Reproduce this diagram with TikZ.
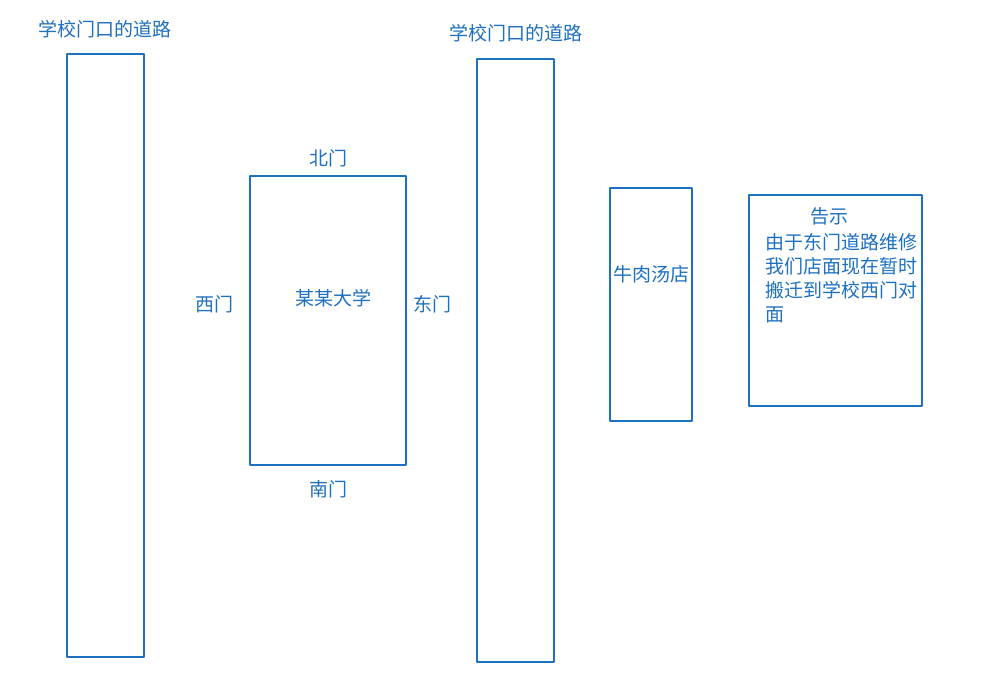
\documentclass[tikz,border=0pt]{standalone}
\usepackage{fontspec}
\newfontfamily\cjk{Noto Sans CJK SC}
\definecolor{sk}{RGB}{30,112,192}
\begin{document}
\begin{tikzpicture}[x=1pt,y=-1pt,
  box/.style={draw=sk,line width=2.6pt,line join=round,inner sep=0pt},
  lbl/.style={text=sk,font=\cjk\fontsize{19}{24}\selectfont,inner sep=0pt}]
\useasboundingbox[fill=white] (0,0) rectangle (1002,687);
% roads
\node[box,minimum width=77pt,minimum height=603pt] (road1) at (105.5,355.5) {};
\node[lbl] (road1l) at (105,29) {学校门口的道路};
\node[box,minimum width=77pt,minimum height=603pt] (road2) at (515.5,360.5) {};
\node[lbl] (road2l) at (516,33) {学校门口的道路};
% university
\node[box,minimum width=156pt,minimum height=289pt] (uni) at (328,320.5) {};
\node[lbl] (unil) at (333,298) {某某大学};
\node[lbl] (north) at (328,158) {北门};
\node[lbl] (south) at (328,489) {南门};
\node[lbl] (west) at (214,304) {西门};
\node[lbl] (east) at (432,304) {东门};
% shop
\node[box,minimum width=82pt,minimum height=233pt] (shop) at (651,304.5) {};
\node[lbl] (shopl) at (651,274) {牛肉汤店};
% notice
\node[box,minimum width=173pt,minimum height=211pt] (notice) at (835.5,300.5) {};
\node[lbl] (title) at (829,216) {告示};
\node[lbl,anchor=north west,align=left] (body) at (765,233) {由于东门道路维修\\我们店面现在暂时\\搬迁到学校西门对\\面};
\end{tikzpicture}
\end{document}
